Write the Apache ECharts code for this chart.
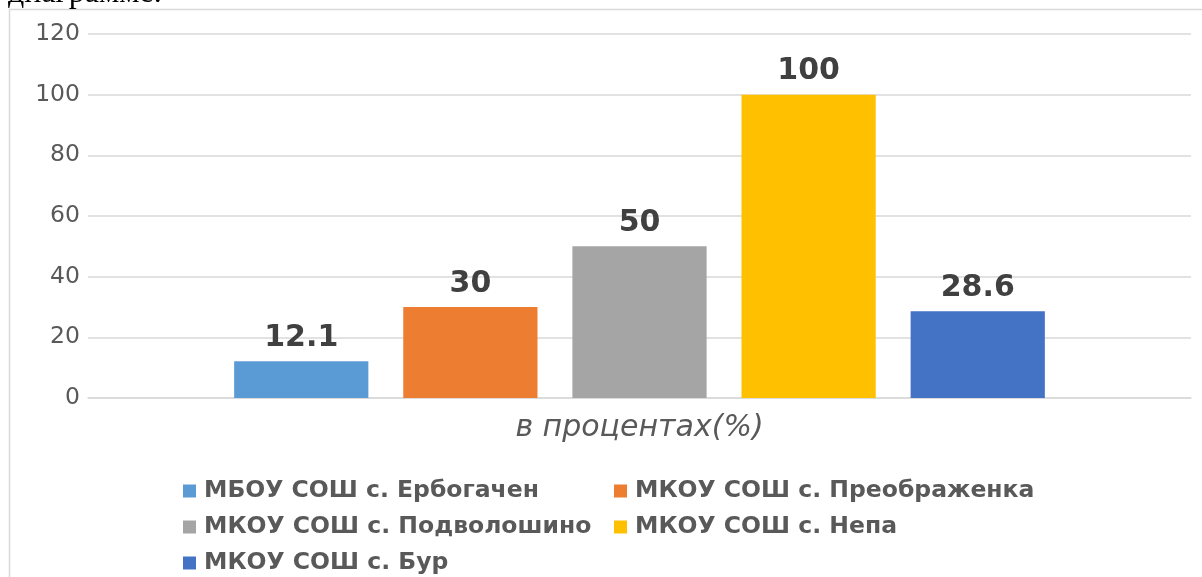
<!DOCTYPE html>
<html>
<head>
<meta charset="utf-8">
<script src="https://cdn.jsdelivr.net/npm/echarts@6/dist/echarts.min.js"></script>
<style>
html,body{margin:0;padding:0;background:#fff;}
#chart{width:1202px;height:577px;}
</style>
</head>
<body>
<div id="chart"></div>
<script>
const categories = ['в процентах(%)'];
const seriesNames = ['МБОУ СОШ с. Ербогачен','МКОУ СОШ с. Преображенка','МКОУ СОШ с. Подволошино','МКОУ СОШ с. Непа','МКОУ СОШ с. Бур'];
const seriesValues = [12.1, 30, 50, 100, 28.6];
const seriesColors = ['#5B9BD5','#ED7D31','#A5A5A5','#FFC000','#4472C4'];
const yTicks = {min:0, max:120, interval:20};

const FF = '"DejaVu Sans", sans-serif';
const chart = echarts.init(document.getElementById('chart'), null, {renderer:'canvas'});
const series = seriesNames.map((name,i)=>({
  name: name,
  type: 'bar',
  data: [seriesValues[i]],
  itemStyle: {color: seriesColors[i]},
  barGap: '26%',
  barCategoryGap: '26.5%',
  label: {
    show: true, position: 'top', distance: 8,
    fontFamily: FF, fontWeight: 'bold', fontSize: 30, color: '#404040'
  }
}));
chart.setOption({
  animation: false,
  backgroundColor: '#fff',
  graphic: [
    {type:'rect', shape:{x:9.5, y:9.5, width:1300, height:700}, style:{fill:'none', stroke:'#d9d9d9', lineWidth:1.5}, silent:true, z:-1},
    {type:'text', x:8, y:9.5, style:{text:'диаграмме.', font:'32px "Liberation Serif", serif', fill:'#000', verticalAlign:'bottom'}}
  ],
  grid: {left:88, right:11, top:34, bottom:179, containLabel:false},
  legend: {
    left: 183, top: 478, width: 900, padding: 0,
    itemWidth: 13, itemHeight: 13, itemGap: 10,
    icon: 'rect',
    textStyle: {fontFamily:FF, fontWeight:'bold', fontSize:23.5, color:'#595959', width:400, lineHeight:26, padding:[0,0,0,3]},
    data: seriesNames
  },
  xAxis: {
    type:'category', data: categories,
    axisLine:{lineStyle:{color:'#d9d9d9', width:1.5}},
    axisTick:{show:false},
    axisLabel:{fontFamily:FF, fontStyle:'italic', fontSize:30, color:'#595959', margin:15}
  },
  yAxis: {
    type:'value', min:yTicks.min, max:yTicks.max, interval:yTicks.interval,
    axisLine:{show:false}, axisTick:{show:false},
    splitLine:{lineStyle:{color:'#d9d9d9', width:1.5}},
    axisLabel:{fontFamily:FF, fontSize:23.5, color:'#595959', margin:8}
  },
  series: series
});
</script>
</body>
</html>
